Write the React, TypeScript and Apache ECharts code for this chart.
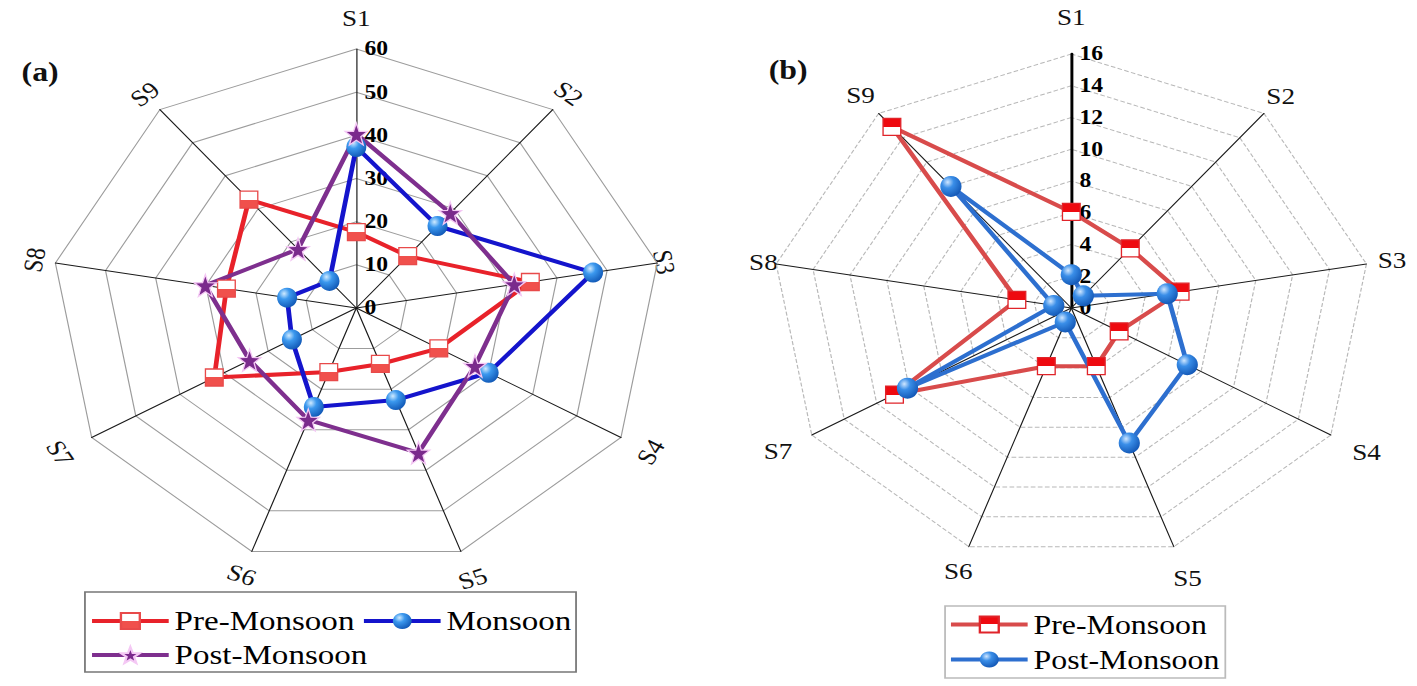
import React, { useEffect, useRef } from 'react';
import * as echarts from 'echarts';

const STATIONS = ['S1', 'S2', 'S3', 'S4', 'S5', 'S6', 'S7', 'S8', 'S9'];

// Panel (a)
const A_MAX = 60;
const A_SPLITS = 6;
const A_PRE = [17.6, 15.7, 34.7, 18.7, 13.8, 15.8, 32.2, 25.9, 32.8];
const A_MON = [37.3, 24.8, 47.2, 30.0, 22.7, 24.4, 14.6, 13.8, 8.2];
const A_POST = [40.3, 28.7, 31.5, 26.9, 35.7, 27.6, 24.2, 30.1, 17.8];

// Panel (b)
const B_MAX = 16;
const B_SPLITS = 8;
const B_PRE = [6.05, 4.9, 5.9, 2.95, 3.9, 3.9, 10.9, 2.95, 14.9];
const B_POST = [2.1, 1.0, 5.2, 7.15, 9.05, 0.94, 10.1, 0.95, 10.0];

const SCALE_X = 1417 / 1201;
const SERIF = '"Liberation Serif", "Times New Roman", serif';

// layout of the station names (radial distance from centre)
const A_NAME_DIST = [290, 280, 265, 288, 288, 284, 290, 277, 279];
const B_NAME_DIST = [291, 276, 276, 289, 288, 280, 287, 265, 278];

function clockwise(arr: any[]) {
  return [arr[0], ...arr.slice(1).reverse()];
}

function nameGraphics(cx: number, cy: number, dists: number[], rotate: boolean) {
  return STATIONS.map((s, i) => {
    const deg = (i * 360) / STATIONS.length;
    const rad = (deg * Math.PI) / 180;
    const rot = deg > 90 && deg < 270 ? deg - 180 : deg >= 270 ? deg - 360 : deg;
    return {
      type: 'text',
      x: cx + dists[i] * Math.sin(rad),
      y: cy - dists[i] * Math.cos(rad),
      rotation: rotate ? (-rot * Math.PI) / 180 : 0,
      style: {
        text: s,
        fontSize: 23,
        fontFamily: SERIF,
        fill: '#111',
        align: 'center',
        verticalAlign: 'middle',
      },
    };
  });
}

function halfGrad(top: string, bottom: string) {
  return new echarts.graphic.LinearGradient(0, 0, 0, 1, [
    { offset: 0, color: top },
    { offset: 0.5, color: top },
    { offset: 0.5, color: bottom },
    { offset: 1, color: bottom },
  ]);
}

function sphere(light: string, mid: string, dark: string) {
  return new echarts.graphic.RadialGradient(0.35, 0.3, 0.8, [
    { offset: 0, color: light },
    { offset: 0.35, color: mid },
    { offset: 1, color: dark },
  ]);
}

const STAR =
  'path://M0,-10 L2.35,-3.24 L9.51,-3.09 L3.8,1.24 L5.88,8.09 L0,4.2 L-5.88,8.09 L-3.8,1.24 L-9.51,-3.09 L-2.35,-3.24 Z';

function indicators(max: number, axisLineExtra: any) {
  return clockwise(STATIONS).map((name, i) =>
    i === 0
      ? {
          name,
          min: 0,
          max,
          axisLabel: {
            show: true,
            color: '#000',
            fontWeight: 'bold',
            fontSize: 20,
            fontFamily: SERIF,
            margin: -7,
            align: 'left',
            verticalAlign: 'middle',
          },
          ...(axisLineExtra ? { axisLine: axisLineExtra } : {}),
        }
      : { name, min: 0, max }
  );
}

type SeriesDef = {
  name: string;
  values: number[];
  lineColor: string;
  symbol: string;
  symbolSize: number[];
  itemStyle: any;
};

function buildSeries(defs: SeriesDef[]) {
  const legendLines = defs.map((d) => ({
    type: 'line',
    name: d.name,
    data: [],
    symbol: d.symbol,
    symbolSize: d.symbolSize,
    lineStyle: { color: d.lineColor, width: 4 },
    itemStyle: d.itemStyle,
  }));
  const radars = defs.map((d) => ({
    type: 'radar',
    name: d.name,
    symbol: d.symbol,
    symbolSize: d.symbolSize,
    lineStyle: { color: d.lineColor, width: 4 },
    itemStyle: d.itemStyle,
    data: [{ name: d.name, value: clockwise(d.values) }],
  }));
  return [...legendLines, ...radars];
}

function optionA() {
  const RED = '#e8222a';
  const BLUE = '#1414cc';
  const PURPLE = '#7e2f8e';
  const defs: SeriesDef[] = [
    {
      name: 'Pre-Monsoon',
      values: A_PRE,
      lineColor: RED,
      symbol: 'rect',
      symbolSize: [15, 17],
      itemStyle: { color: halfGrad('#ffffff', '#f0504c'), borderColor: '#e84a4a', borderWidth: 1.2 },
    },
    {
      name: 'Monsoon',
      values: A_MON,
      lineColor: BLUE,
      symbol: 'circle',
      symbolSize: [17, 20],
      itemStyle: { color: sphere('#cfeaff', '#3b98ee', '#0b4fae'), borderWidth: 0 },
    },
    {
      name: 'Post-Monsoon',
      values: A_POST,
      lineColor: PURPLE,
      symbol: STAR,
      symbolSize: [19, 22],
      itemStyle: { color: '#7a2a8c', borderColor: '#f4c8f4', borderWidth: 1.2 },
    },
  ];
  return {
    animation: false,
    graphic: [
      ...nameGraphics(302, 308, A_NAME_DIST, true),
      {
        type: 'text',
        x: 34,
        y: 72,
        style: {
          text: '(a)',
          fontSize: 27,
          fontWeight: 'bold',
          fontFamily: SERIF,
          fill: '#111',
          align: 'center',
          verticalAlign: 'middle',
        },
      },
    ],
    grid: { show: false, left: 0, top: 0, width: 1, height: 1 },
    xAxis: { type: 'value', show: false },
    yAxis: { type: 'value', show: false },
    legend: {
      left: 72,
      top: 592,
      width: 418,
      orient: 'horizontal',
      itemWidth: 65,
      itemHeight: 20,
      itemGap: 6,
      padding: [15, 4, 3, 4],
      borderColor: '#777',
      borderWidth: 1.5,
      selectedMode: false,
      lineStyle: { width: 4 },
      textStyle: { fontSize: 28, fontFamily: SERIF, color: '#000' },
      data: defs.map((d) => d.name),
    },
    radar: {
      center: [302, 308],
      radius: 259,
      startAngle: 90,
      splitNumber: A_SPLITS,
      shape: 'polygon',
      axisName: { show: false },
      axisLine: { lineStyle: { color: '#1a1a1a', width: 1 } },
      splitLine: { lineStyle: { color: '#9c9c9c', width: 1 } },
      splitArea: { show: false },
      axisTick: { show: false },
      axisLabel: { show: false },
      indicator: indicators(A_MAX, null),
    },
    series: buildSeries(defs),
  };
}

function optionB() {
  const RED = '#d84b4b';
  const BLUE = '#2d6fcf';
  const defs: SeriesDef[] = [
    {
      name: 'Pre-Monsoon',
      values: B_PRE,
      lineColor: RED,
      symbol: 'rect',
      symbolSize: [15, 17],
      itemStyle: { color: halfGrad('#ee0a10', '#ffffff'), borderColor: '#e0242a', borderWidth: 1.2 },
    },
    {
      name: 'Post-Monsoon',
      values: B_POST,
      lineColor: BLUE,
      symbol: 'circle',
      symbolSize: [18, 21],
      itemStyle: { color: sphere('#cfe6ff', '#3a8ee8', '#0d4fae'), borderWidth: 0 },
    },
  ];
  return {
    animation: false,
    graphic: [
      ...nameGraphics(308, 308, B_NAME_DIST, false),
      {
        type: 'text',
        x: 68,
        y: 70,
        style: {
          text: '(b)',
          fontSize: 27,
          fontWeight: 'bold',
          fontFamily: SERIF,
          fill: '#111',
          align: 'center',
          verticalAlign: 'middle',
        },
      },
    ],
    grid: { show: false, left: 0, top: 0, width: 1, height: 1 },
    xAxis: { type: 'value', show: false },
    yAxis: { type: 'value', show: false },
    legend: {
      left: 201,
      top: 606,
      orient: 'vertical',
      itemWidth: 65,
      itemHeight: 20,
      itemGap: 8,
      padding: [5, 5, 5, 3],
      borderColor: '#bbb',
      borderWidth: 1.5,
      selectedMode: false,
      lineStyle: { width: 4 },
      textStyle: { fontSize: 27, fontFamily: SERIF, color: '#000' },
      data: defs.map((d) => d.name),
    },
    radar: {
      center: [308, 308],
      radius: 254,
      startAngle: 90,
      splitNumber: B_SPLITS,
      shape: 'polygon',
      axisName: { show: false },
      axisLine: { lineStyle: { color: '#1a1a1a', width: 1 } },
      splitLine: { lineStyle: { color: '#b8b8b8', width: 1, type: 'dashed' } },
      splitArea: { show: false },
      axisTick: { show: false },
      axisLabel: { show: false },
      indicator: indicators(B_MAX, { lineStyle: { color: '#000', width: 2.5 } }),
    },
    series: buildSeries(defs),
  };
}

function Chart({ option, width }: { option: any; width: number }) {
  const ref = useRef<HTMLDivElement>(null);
  useEffect(() => {
    if (!ref.current) return;
    const chart = echarts.init(ref.current, undefined, { renderer: 'svg' });
    chart.setOption(option);
    return () => chart.dispose();
  }, []);
  return <div ref={ref} style={{ width, height: 686, flex: 'none' }} />;
}

export default function App() {
  return (
    <div
      style={{
        position: 'absolute',
        left: 0,
        top: 0,
        width: 1201,
        height: 686,
        display: 'flex',
        background: '#fff',
        transform: `scaleX(${SCALE_X})`,
        transformOrigin: '0 0',
      }}
    >
      <Chart option={optionA()} width={600} />
      <Chart option={optionB()} width={601} />
    </div>
  );
}
